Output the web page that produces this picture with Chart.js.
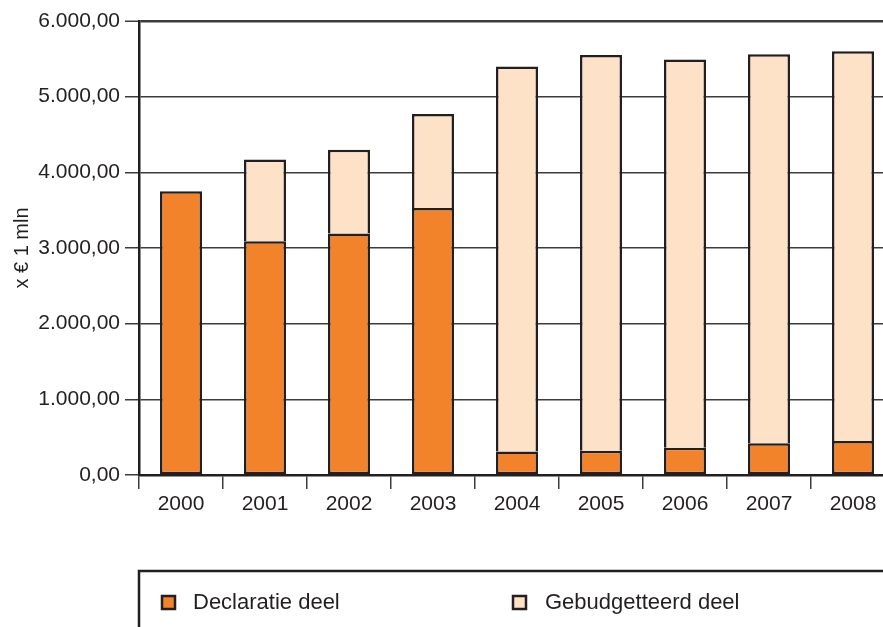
<!DOCTYPE html>
<html lang="nl">
<head>
<meta charset="utf-8">
<title>Declaratie en gebudgetteerd deel</title>
<script src="https://cdn.jsdelivr.net/npm/chart.js@4/dist/chart.umd.min.js"></script>
<style>
  html, body { margin: 0; padding: 0; background: #ffffff; overflow: hidden; }
  #wrap { width: 900px; height: 627px; }
</style>
</head>
<body>
<div id="wrap"><canvas id="c" width="900" height="627"></canvas></div>
<script>
// Jaren op de x-as
const years = ['2000', '2001', '2002', '2003', '2004', '2005', '2006', '2007', '2008'];
// Bedragen x € 1 mln
const declaratieDeel = [3750, 3090, 3190, 3530, 310, 320, 360, 420, 450];
const gebudgetteerdDeel = [null, 1080, 1110, 1240, 5090, 5230, 5130, 5140, 5150];
// Reeksnamen
const seriesNames = ['Declaratie deel', 'Gebudgetteerd deel'];
const axisTitle = 'x € 1 mln';

const INK = '#231f20';
const GRID = '#3c3c3c';
const ORANGE = '#f3832a';
const PEACH = '#fde2c8';
const FONT = '"Liberation Sans", Arial, sans-serif';

const nl = new Intl.NumberFormat('nl-NL', { minimumFractionDigits: 2, maximumFractionDigits: 2 });

// Legenda in een kader onder de grafiek
const boxedLegend = {
  id: 'boxedLegend',
  afterDraw(chart) {
    const { ctx } = chart;
    const left = chart.chartArea.left;
    const top = 571;
    ctx.save();
    ctx.strokeStyle = INK;
    ctx.lineWidth = 2.5;
    ctx.beginPath();
    ctx.moveTo(left, chart.height + 10);
    ctx.lineTo(left, top);
    ctx.lineTo(chart.width + 10, top);
    ctx.stroke();

    const items = [
      { x: 162, textX: 193 },
      { x: 513, textX: 545 }
    ];
    ctx.font = '22px ' + FONT;
    ctx.textBaseline = 'middle';
    ctx.textAlign = 'left';
    chart.data.datasets.forEach((ds, i) => {
      const it = items[i];
      ctx.fillStyle = ds.backgroundColor;
      ctx.fillRect(it.x, 596, 13, 13);
      ctx.lineWidth = 2.5;
      ctx.strokeStyle = INK;
      ctx.strokeRect(it.x, 596, 13, 13);
      ctx.fillStyle = INK;
      ctx.fillText(ds.label, it.textX, 603);
    });
    ctx.restore();
  }
};

new Chart(document.getElementById('c'), {
  type: 'bar',
  data: {
    labels: years,
    datasets: [
      {
        label: seriesNames[0],
        data: declaratieDeel,
        backgroundColor: ORANGE,
        borderColor: INK,
        borderWidth: 2.5,
        borderSkipped: false
      },
      {
        label: seriesNames[1],
        data: gebudgetteerdDeel,
        backgroundColor: PEACH,
        borderColor: INK,
        borderWidth: 2.5,
        // the orange segment's top edge already forms the divider
        borderSkipped: 'bottom'
      }
    ]
  },
  options: {
    responsive: false,
    animation: false,
    datasets: { bar: { categoryPercentage: 1, barPercentage: 0.5 } },
    layout: { padding: { left: 0, right: 5, top: 21, bottom: 112 } },
    plugins: {
      legend: { display: false },
      tooltip: { enabled: false }
    },
    scales: {
      x: {
        stacked: true,
        border: { color: INK, width: 2.5 },
        grid: {
          offset: true,
          drawOnChartArea: false,
          drawTicks: true,
          tickLength: 14,
          color: GRID,
          lineWidth: 1.5
        },
        ticks: {
          color: INK,
          font: { family: FONT, size: 21 },
          padding: 3,
          maxRotation: 0
        },
        afterFit(scale) { scale.height = 40; }
      },
      y: {
        stacked: true,
        min: 0,
        max: 6000,
        border: { color: INK, width: 2.5 },
        grid: {
          color: GRID,
          lineWidth: (c) => (c.tick && c.tick.value === 6000 ? 2.5 : 1.5),
          tickWidth: 1.5,
          tickColor: GRID,
          tickLength: 14,
          drawTicks: true
        },
        ticks: {
          stepSize: 1000,
          color: INK,
          font: { family: FONT, size: 21 },
          padding: 5,
          callback: (v) => nl.format(v)
        },
        title: {
          display: true,
          text: axisTitle,
          color: INK,
          font: { family: FONT, size: 20 },
          padding: { top: 10, bottom: 0 }
        },
        afterFit(scale) { scale.width = 139; }
      }
    }
  },
  plugins: [boxedLegend]
});
</script>
</body>
</html>
